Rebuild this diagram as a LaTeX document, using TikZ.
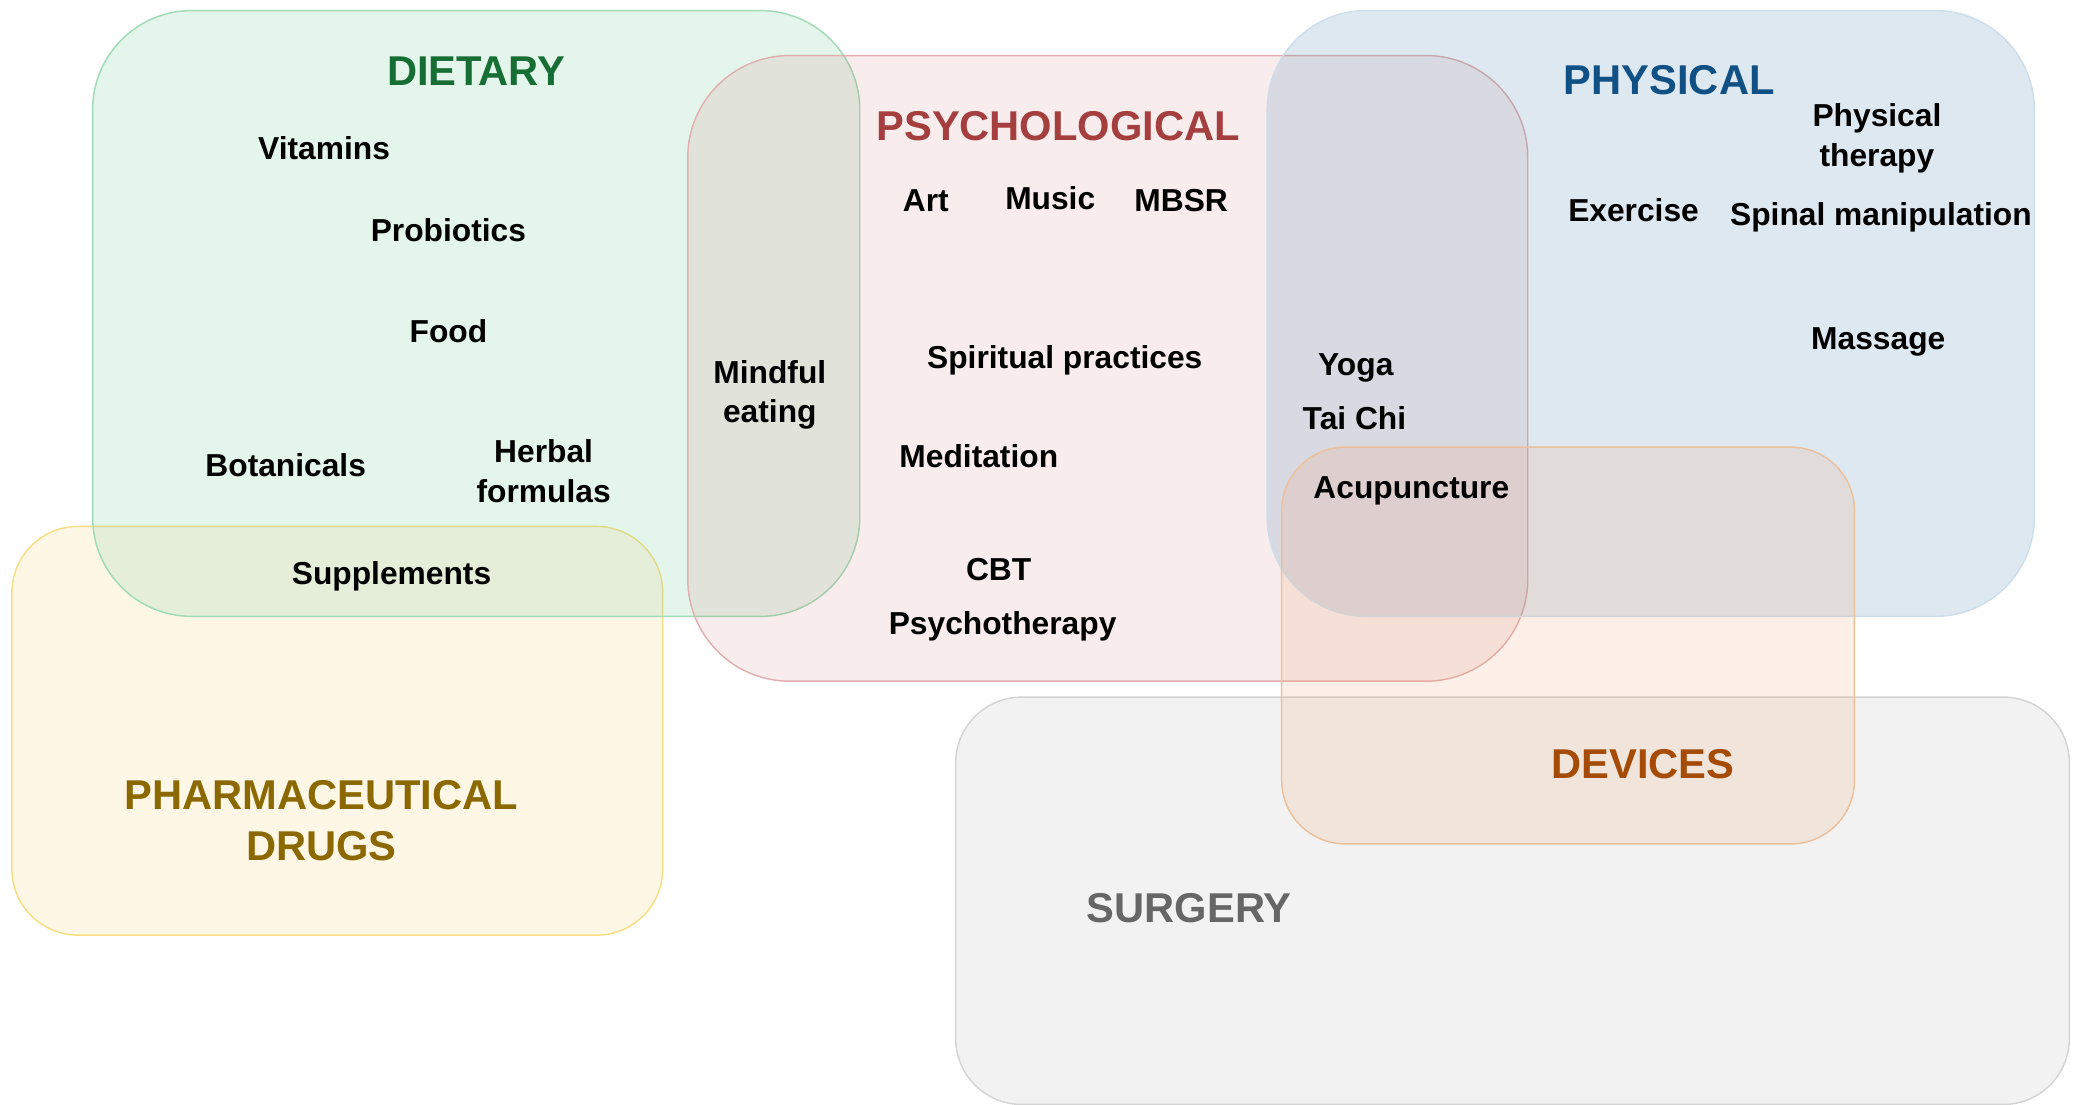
\documentclass[tikz,border=0pt]{standalone}
\usepackage{fontspec}
\setmainfont{Liberation Sans}
\definecolor{cgreen}{RGB}{140,210,170}
\definecolor{cpink}{RGB}{200,110,110}
\definecolor{cblue}{RGB}{90,140,180}
\definecolor{cyellow}{RGB}{250,200,90}
\definecolor{corange}{RGB}{240,160,110}
\definecolor{bgreen}{RGB}{160,218,182}
\definecolor{bpink}{RGB}{225,175,175}
\definecolor{bblue}{RGB}{205,222,235}
\definecolor{byellow}{RGB}{248,222,130}
\definecolor{bgray}{RGB}{212,212,212}
\definecolor{borange}{RGB}{235,192,155}
\definecolor{tgreen}{RGB}{22,110,52}
\definecolor{tred}{RGB}{165,62,62}
\definecolor{tblue}{RGB}{16,80,132}
\definecolor{tgold}{RGB}{140,104,0}
\definecolor{tbrown}{RGB}{165,75,5}
\definecolor{tgray}{RGB}{102,102,102}
\begin{document}
\begin{tikzpicture}[x=1pt,y=-1pt,
  box/.style={draw, line width=1.1pt, inner sep=0pt, outer sep=0pt},
  item/.style={font=\fontsize{24}{30}\selectfont\bfseries, align=center, inner sep=0pt, anchor=base},
  head/.style={font=\fontsize{31.5}{38}\selectfont\bfseries, align=center, inner sep=0pt, anchor=base}]
\useasboundingbox (0,0) rectangle (1568,834.7);
% boxes
\node[box, draw=bgray, fill={rgb,255:red,242;green,242;blue,242}, rounded corners=50pt, minimum width=842pt, minimum height=308pt] (surg) at (1143.5,681) {};
\node[box, draw=byellow, fill=cyellow, fill opacity=0.15, rounded corners=50pt, minimum width=492pt, minimum height=309pt] (pharm) at (255,552.5) {};
\node[box, draw=bgreen, fill=cgreen, fill opacity=0.23, rounded corners=75pt, minimum width=580pt, minimum height=458pt] (diet) at (360,237) {};
\node[box, draw=bpink, fill=cpink, fill opacity=0.13, rounded corners=77pt, minimum width=635pt, minimum height=473pt] (psych) at (837.5,278.5) {};
\node[box, draw=bblue, fill=cblue, fill opacity=0.2, rounded corners=75pt, minimum width=580pt, minimum height=458pt] (phys) at (1248,237) {};
\node[box, draw=borange, fill=corange, fill opacity=0.17, rounded corners=48pt, minimum width=433pt, minimum height=300pt] (dev) at (1185.5,488) {};
% headings
\node[head, text=tgreen] (tdiet) at (360,64.3) {DIETARY};
\node[head, text=tred] (tpsych) at (800,106.3) {PSYCHOLOGICAL};
\node[head, text=tblue] (tphys) at (1262,71.3) {PHYSICAL};
\node[head, text=tgold] (tpharm) at (243,650.3) {PHARMACEUTICAL\\DRUGS};
\node[head, text=tbrown] (tdev) at (1242,588.3) {DEVICES};
\node[head, text=tgray] (tsurg) at (899,697.3) {SURGERY};
% items
\node[item] (vit) at (245,120.6) {Vitamins};
\node[item] (prob) at (339,182.6) {Probiotics};
\node[item] (food) at (339,258.6) {Food};
\node[item] (bot) at (216,360.6) {Botanicals};
\node[item] (herb) at (411,379.6) {Herbal\\formulas};
\node[item] (supp) at (296,441.6) {Supplements};
\node[item] (mind) at (582,319.6) {Mindful\\eating};
\node[item] (art) at (700,159.6) {Art};
\node[item] (music) at (794,158.6) {Music};
\node[item] (mbsr) at (893,159.6) {MBSR};
\node[item] (spir) at (805,278.6) {Spiritual practices};
\node[item] (med) at (740,353.6) {Meditation};
\node[item] (cbt) at (755,438.6) {CBT};
\node[item] (psy) at (758,479.6) {Psychotherapy};
\node[item] (yoga) at (1025,283.6) {Yoga};
\node[item] (tai) at (1024,324.6) {Tai Chi};
\node[item] (acu) at (1067,376.6) {Acupuncture};
\node[item] (exer) at (1235,167.6) {Exercise};
\node[item] (pt) at (1419,125.6) {Physical\\therapy};
\node[item] (spin) at (1422,170.6) {Spinal manipulation};
\node[item] (mass) at (1420,264.6) {Massage};
\end{tikzpicture}
\end{document}
